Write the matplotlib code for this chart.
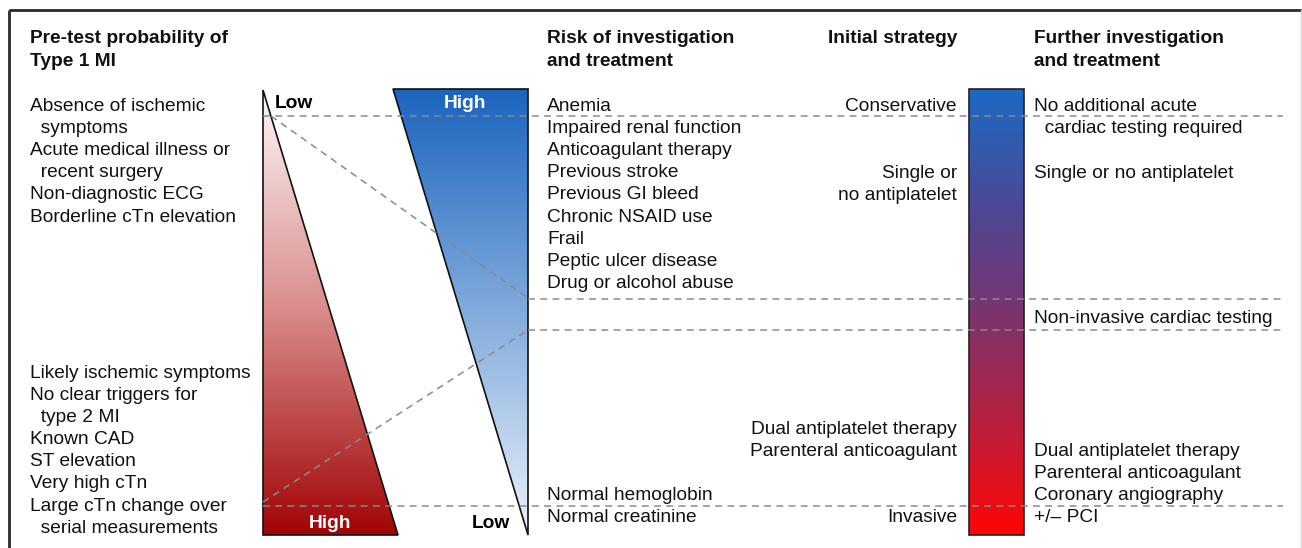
import numpy as np
import matplotlib
matplotlib.use("Agg")
import matplotlib.pyplot as plt
from matplotlib.patches import Polygon
from matplotlib.colors import LinearSegmentedColormap

plt.rcParams['font.family'] = ['Liberation Sans', 'DejaVu Sans']

# ---- text content ----
headers = ["Pre-test probability of\nType 1 MI",
           "Risk of investigation\nand treatment",
           "Initial strategy",
           "Further investigation\nand treatment"]
pretest_low = ["Absence of ischemic", "  symptoms", "Acute medical illness or",
               "  recent surgery", "Non-diagnostic ECG", "Borderline cTn elevation"]
pretest_high = ["Likely ischemic symptoms", "No clear triggers for", "  type 2 MI",
                "Known CAD", "ST elevation", "Very high cTn",
                "Large cTn change over", "  serial measurements"]
risk_high = ["Anemia", "Impaired renal function", "Anticoagulant therapy",
             "Previous stroke", "Previous GI bleed", "Chronic NSAID use", "Frail",
             "Peptic ulcer disease", "Drug or alcohol abuse"]
risk_low = ["Normal hemoglobin", "Normal creatinine"]
strategy_conservative = ["Conservative"]
strategy_single = ["Single or", "no antiplatelet"]
strategy_dual = ["Dual antiplatelet therapy", "Parenteral anticoagulant"]
strategy_invasive = ["Invasive"]
further_none = ["No additional acute", "  cardiac testing required"]
further_single = ["Single or no antiplatelet"]
further_noninv = ["Non-invasive cardiac testing"]
further_inv = ["Dual antiplatelet therapy", "Parenteral anticoagulant",
               "Coronary angiography", "+/\u2013 PCI"]
scale_labels = ["Low", "High"]

W, H = 1302, 548
fig = plt.figure(figsize=(W / 100, H / 100), dpi=100)
ax = fig.add_axes([0, 0, 1, 1])
ax.set_xlim(0, W)
ax.set_ylim(H, 0)
ax.axis('off')

FS = 13.8
LS = 22.1
DY = 1.5  # visual vertical offset for text

# frame
ax.plot([9, 9], [548, 10], color='#2a2a2a', lw=2, solid_capstyle='butt')
ax.plot([9, 1302], [10, 10], color='#2a2a2a', lw=2, solid_capstyle='butt')
ax.plot([1301, 1301], [10, 548], color='#d8d8d8', lw=1)


def gradient_poly(verts, colors, y0, y1, x0, x1, zorder=2):
    cmap = LinearSegmentedColormap.from_list('g', colors)
    grad = np.linspace(0, 1, 256).reshape(-1, 1)
    im = ax.imshow(grad, cmap=cmap, aspect='auto',
                   extent=[x0, x1, y1, y0], zorder=zorder, interpolation='bilinear')
    poly = Polygon(verts, closed=True, facecolor='none', edgecolor='#111111', lw=1.2,
                   zorder=zorder + 1)
    ax.add_patch(poly)
    im.set_clip_path(poly)


# red triangle (pre-test probability)
red_verts = [(263, 90), (263, 535), (398, 535)]
gradient_poly(red_verts, ['#fdf7f7', '#d98a8a', '#a10404'], 90, 535, 263, 398)
# blue triangle (risk)
blue_verts = [(393, 89), (528, 89), (528, 535)]
gradient_poly(blue_verts, ['#1a64be', '#ebf2fb'], 89, 535, 393, 528)
# strategy bar
bar_verts = [(969, 89), (1024, 89), (1024, 535), (969, 535)]
cmap_bar = LinearSegmentedColormap.from_list('b', ['#1b6ac4', '#4a4a98', '#7a3470',
                                                  '#b8203c', '#ff0505'])
grad = np.linspace(0, 1, 256).reshape(-1, 1)
ax.imshow(grad, cmap=cmap_bar, aspect='auto', extent=[969, 1024, 535, 89], zorder=2)
ax.add_patch(Polygon(bar_verts, closed=True, facecolor='none', edgecolor='#222222',
                     lw=1.2, zorder=3))

# dashed guide lines
dk = dict(color='#8a8a8a', lw=1.1, ls=(0, (4.5, 3.5)), zorder=4)
ax.plot([263, 1283], [116, 116], **dk)
ax.plot([528, 1283], [299, 299], **dk)
ax.plot([528, 1283], [330, 330], **dk)
ax.plot([263, 1283], [506, 506], **dk)
ax.plot([271, 528], [116, 298], **dk)
ax.plot([263, 528], [502, 330], **dk)

# scale labels
ax.text(275, 102 + DY, scale_labels[0], fontsize=FS, fontweight='bold', color='black',
        va='center', ha='left', zorder=5)
ax.text(465, 102 + DY, scale_labels[1], fontsize=FS, fontweight='bold', color='white',
        va='center', ha='center', zorder=5)
ax.text(330, 522 + DY, scale_labels[1], fontsize=FS, fontweight='bold', color='white',
        va='center', ha='center', zorder=5)
ax.text(491, 522 + DY, scale_labels[0], fontsize=FS, fontweight='bold', color='black',
        va='center', ha='center', zorder=5)

# headers
for txt, x, ha in zip(headers, [30, 547, 957, 1034], ['left', 'left', 'right', 'left']):
    for i, line in enumerate(txt.split('\n')):
        ax.text(x, 38.5 + i * 23, line, fontsize=FS, fontweight='bold', va='center',
                ha=ha, color='#111111')


def block(lines, x, y0, ha='left', ls=LS):
    for i, line in enumerate(lines):
        ax.text(x, y0 + DY + i * ls, line, fontsize=FS, va='center', ha=ha,
                color='#111111', zorder=5)


block(pretest_low, 30, 105)
block(pretest_high, 30, 372)
block(risk_high, 547, 105)
block(risk_low, 547, 494)
block(strategy_conservative, 957, 105, 'right')
block(strategy_single, 957, 172, 'right')
block(strategy_dual, 957, 428, 'right')
block(strategy_invasive, 957, 516, 'right')
block(further_none, 1034, 105)
block(further_single, 1034, 172)
block(further_noninv, 1034, 317)
block(further_inv, 1034, 450)

fig.savefig('out.png', dpi=100)
